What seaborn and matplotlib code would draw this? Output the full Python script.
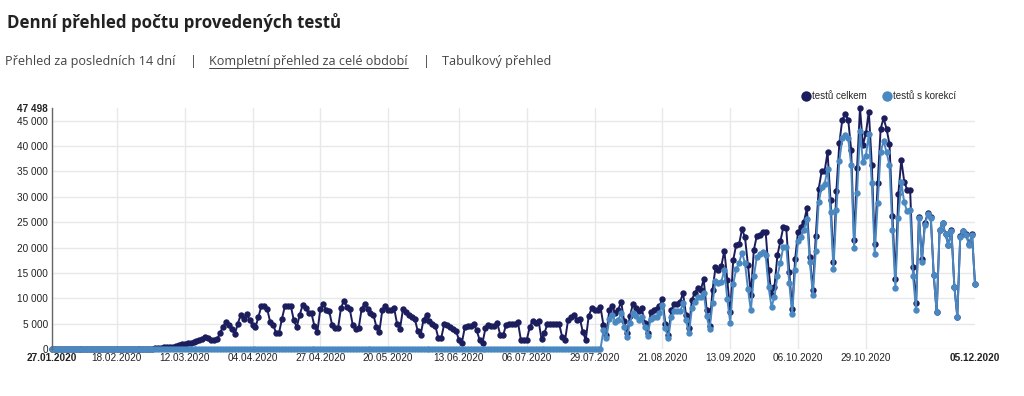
import pandas as pd
import seaborn as sns
import matplotlib.pyplot as plt
from matplotlib.lines import Line2D

# daily values, one row per week (Mon..Sun), 27.01.2020 - 05.12.2020
tests_total = [
    0, 2, 3, 4, 2, 1, 0,                                   # 27.01.
    5, 7, 6, 4, 8, 2, 1,                                   # 03.02.
    6, 9, 10, 8, 11, 3, 2,                                 # 10.02.
    10, 12, 14, 11, 15, 5, 4,                              # 17.02.
    20, 30, 40, 60, 80, 50, 60,                            # 24.02.
    150, 200, 250, 300, 400, 300, 350,                     # 02.03.
    600, 800, 900, 1000, 1200, 1100, 1300,                 # 09.03.
    1500, 1800, 2000, 2400, 2200, 1800, 1700,              # 16.03.
    1900, 3200, 4400, 5300, 4800, 4000, 2900,              # 23.03.
    5000, 6700, 6000, 6900, 5700, 4700, 4300,              # 30.03.
    6300, 8500, 8400, 7800, 5300, 4700, 3200,              # 06.04.
    3200, 6000, 8500, 8500, 8400, 5700, 4300,              # 13.04.
    6700, 8700, 8100, 7100, 7000, 4500, 3400,              # 20.04.
    7900, 8900, 7600, 7500, 4700, 4100, 4100,              # 27.04.
    8100, 9500, 8200, 7800, 4700, 3900, 4100,              # 04.05.
    7900, 8900, 7800, 7100, 6700, 4400, 3400,              # 11.05.
    7600, 8500, 7600, 7600, 8100, 5000, 3900,              # 18.05.
    7800, 7300, 6700, 6300, 6000, 3600, 2800,              # 25.05.
    5800, 6700, 5500, 5000, 4500, 2200, 2200,              # 01.06.
    4900, 4700, 4300, 3900, 3600, 1800, 1250,              # 08.06.
    4300, 4500, 4500, 4900, 3700, 1800, 1250,              # 15.06.
    4100, 4700, 4500, 4500, 5100, 2800, 2800,              # 22.06.
    4700, 4900, 4900, 4900, 5300, 1800, 1800,              # 29.06.
    1800, 4300, 5600, 5100, 5600, 1900, 3200,              # 06.07.
    4900, 4900, 4900, 4900, 4900, 2400, 1800,              # 13.07.
    5700, 6300, 6700, 5700, 6000, 3400, 1800,              # 20.07.
    6500, 8000, 7700, 7700, 8300, 4700, 2800,              # 27.07.
    7700, 8500, 7000, 7700, 9300, 5600, 3100,              # 03.08.
    6500, 8900, 8000, 7400, 8000, 5200, 3100,              # 10.08.
    7200, 7700, 7800, 8500, 9800, 5000, 2800,              # 17.08.
    7600, 8900, 8900, 9300, 11000, 6700, 4100,            # 24.08.
    9700, 11100, 12000, 11700, 13700, 7700, 4500,          # 31.08.
    11600, 16100, 15600, 16400, 19400, 13600, 7200,        # 07.09.
    17500, 20500, 20700, 23600, 22000, 16600, 10700,       # 14.09.
    19500, 22300, 22500, 23100, 23100, 15600, 10700,       # 21.09.
    12300, 18500, 21200, 24000, 23800, 15200, 7800,        # 28.09.
    17700, 23100, 24100, 25100, 27700, 18100, 11600,       # 05.10.
    22200, 31600, 35000, 35000, 38800, 29400, 17200,       # 12.10.
    31200, 40600, 45200, 46300, 45200, 39300, 21500,       # 19.10.
    35600, 47498, 40200, 42500, 46800, 36300, 20600,       # 26.10.
    32700, 43400, 45500, 43400, 40400, 26300, 13800,       # 02.11.
    30500, 37300, 33000, 31400, 31400, 16200, 9000,        # 09.11.
    26100, 17700, 24800, 26800, 26100, 14600, 7200,        # 16.11.
    23500, 24800, 22600, 20500, 23500, 12300, 6400,        # 23.11.
    22300, 23300, 22600, 20600, 22600, 12800,              # 30.11.
]

tests_corrected = [
    0, 0, 0, 0, 0, 0, 0,                                   # 27.01.
    0, 0, 0, 0, 0, 0, 0,                                   # 03.02.
    0, 0, 0, 0, 0, 0, 0,                                   # 10.02.
    0, 0, 0, 0, 0, 0, 0,                                   # 17.02.
    0, 0, 0, 0, 0, 0, 0,                                   # 24.02.
    0, 0, 0, 0, 0, 0, 0,                                   # 02.03.
    0, 0, 0, 0, 0, 0, 0,                                   # 09.03.
    0, 0, 0, 0, 0, 0, 0,                                   # 16.03.
    0, 0, 0, 0, 0, 0, 0,                                   # 23.03.
    0, 0, 0, 0, 0, 0, 0,                                   # 30.03.
    0, 0, 0, 0, 0, 0, 0,                                   # 06.04.
    0, 0, 0, 0, 0, 0, 0,                                   # 13.04.
    0, 0, 0, 0, 0, 0, 0,                                   # 20.04.
    0, 0, 0, 0, 0, 0, 0,                                   # 27.04.
    0, 0, 0, 0, 0, 0, 0,                                   # 04.05.
    0, 0, 0, 0, 0, 0, 0,                                   # 11.05.
    0, 0, 0, 0, 0, 0, 0,                                   # 18.05.
    0, 0, 0, 0, 0, 0, 0,                                   # 25.05.
    0, 0, 0, 0, 0, 0, 0,                                   # 01.06.
    0, 0, 0, 0, 0, 0, 0,                                   # 08.06.
    0, 0, 0, 0, 0, 0, 0,                                   # 15.06.
    0, 0, 0, 0, 0, 0, 0,                                   # 22.06.
    0, 0, 0, 0, 0, 0, 0,                                   # 29.06.
    0, 0, 0, 0, 0, 0, 0,                                   # 06.07.
    0, 0, 0, 0, 0, 0, 0,                                   # 13.07.
    0, 0, 0, 0, 0, 0, 0,                                   # 20.07.
    0, 0, 0, 0, 0, 3700, 2100,                             # 27.07.
    6000, 6700, 5400, 5700, 7000, 4400, 2400,              # 03.08.
    5200, 7000, 6500, 5700, 6400, 4400, 2600,              # 10.08.
    6000, 6400, 6400, 7000, 8700, 4100, 2100,              # 17.08.
    6400, 7400, 7400, 7400, 9000, 5700, 3100,              # 24.08.
    8000, 9300, 10300, 10300, 11100, 6500, 3900,           # 31.08.
    9000, 13500, 13000, 13300, 15600, 9800, 5200,          # 07.09.
    12800, 15700, 17000, 19000, 16900, 11800, 7600,        # 14.09.
    14300, 18100, 18700, 19200, 18500, 12200, 8300,        # 21.09.
    10300, 14400, 17000, 20200, 20200, 13100, 6900,        # 28.09.
    15600, 21200, 22100, 23500, 25600, 17200, 10700,       # 05.10.
    19300, 28900, 32000, 32500, 35500, 27000, 15800,       # 12.10.
    27400, 37100, 41500, 42200, 41500, 36300, 19900,       # 19.10.
    30700, 42900, 36900, 38100, 42300, 32700, 18700,       # 26.10.
    28700, 38800, 41000, 38800, 36200, 23500, 12100,       # 02.11.
    25900, 32900, 28900, 27100, 27400, 14300, 7700,        # 09.11.
    25900, 17200, 24500, 26600, 25900, 14600, 7200,        # 16.11.
    23500, 24800, 22600, 20400, 23300, 12300, 6400,        # 23.11.
    22100, 23200, 22400, 20400, 22400, 12800,              # 30.11.
]

series_names = ['testů celkem', 'testů s korekcí']
colors = ['#1b1d5c', '#4a88c2']
x_tick_dates = ['2020-01-27', '2020-02-18', '2020-03-12', '2020-04-04', '2020-04-27',
                '2020-05-20', '2020-06-13', '2020-07-06', '2020-07-29', '2020-08-21',
                '2020-09-13', '2020-10-06', '2020-10-29', '2020-12-05']
y_ticks = [0, 5000, 10000, 15000, 20000, 25000, 30000, 35000, 40000, 45000, 47498]

dates = pd.date_range('2020-01-27', '2020-12-05', freq='D')
df = pd.DataFrame({'datum': dates, series_names[0]: tests_total, series_names[1]: tests_corrected})
df = df.melt(id_vars='datum', var_name='serie', value_name='pocet')

sns.set_theme(style='white')
plt.rcParams['font.family'] = ['Liberation Sans', 'DejaVu Sans']

fig = plt.figure(figsize=(10.24, 3.96), dpi=100)
ax = fig.add_axes([52 / 1024, 1 - 349 / 396, (975 - 52) / 1024, (349 - 108) / 396])

sns.lineplot(data=df, x='datum', y='pocet', hue='serie', hue_order=series_names,
             palette=colors, marker='o', markersize=4.6, markeredgewidth=0,
             linewidth=1.4, errorbar=None, legend=False, ax=ax, clip_on=False)

xt = pd.to_datetime(x_tick_dates)
ax.set_xlim(dates[0], dates[-1])
ax.set_ylim(0, y_ticks[-1])
ax.set_xticks(xt)
ax.set_xticklabels([d.strftime('%d.%m.%Y') for d in xt])
ax.set_yticks(y_ticks)
ax.set_yticklabels([f'{v:,}'.replace(',', ' ') for v in y_ticks])
ax.set_xlabel('')
ax.set_ylabel('')
ax.tick_params(length=0, labelsize=7.2, labelcolor='#222222', pad=3)

ax.grid(True, color='#e8e8e8', linewidth=1)
ax.xaxis.get_gridlines()[-1].set_visible(False)
ax.yaxis.get_gridlines()[-1].set_visible(False)
for s in ['top', 'right', 'bottom']:
    ax.spines[s].set_visible(False)
ax.spines['left'].set_color('#666666')
ax.spines['left'].set_linewidth(1)

for lab in [ax.get_xticklabels()[0], ax.get_xticklabels()[-1], ax.get_yticklabels()[-1]]:
    lab.set_fontweight('bold')

handles = [Line2D([], [], marker='o', ls='', color=c, markersize=7.5, markeredgewidth=0, label=n)
           for c, n in zip(colors, series_names)]
fig.legend(handles=handles, loc='center right', bbox_to_anchor=(956 / 1024, 1 - 96 / 396),
           ncol=2, frameon=False, fontsize=7, handletextpad=0.1, columnspacing=1.6,
           handlelength=1.0, borderpad=0, borderaxespad=0)

# header texts
fig.text(7 / 1024, 1 - 23 / 396, 'Denní přehled počtu provedených testů', fontsize=12.2,
         fontweight='bold', family='Open Sans', color='#222222', va='center')
sub_y = 1 - 62 / 396
sub = [(5, 'Přehled za posledních 14 dní'), (190, '|'), (209, 'Kompletní přehled za celé období'),
       (423, '|'), (442, 'Tabulkový přehled')]
texts = []
for x, t in sub:
    texts.append(fig.text(x / 1024, sub_y, t, fontsize=9.1, family='Open Sans',
                          color='#444444', va='center'))

fig.canvas.draw()
bb = texts[2].get_window_extent()
fig.add_artist(Line2D([bb.x0 / 1024, bb.x1 / 1024], [(bb.y0 + 0.5) / 396] * 2,
                      color='#444444', linewidth=0.7, transform=fig.transFigure))

fig.savefig('out.png', dpi=100)
